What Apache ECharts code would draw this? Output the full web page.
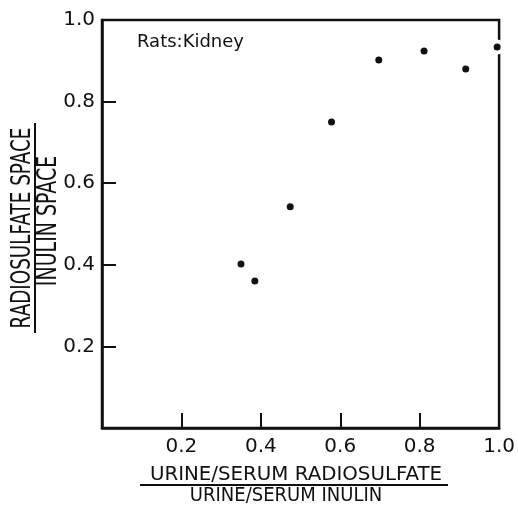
<!DOCTYPE html>
<html>
	<head>
		<meta charset="utf-8">
		<title>Rats: Kidney</title>
		<script src="https://cdn.jsdelivr.net/npm/echarts@6/dist/echarts.min.js"></script>
		<style>
			html, body { margin: 0; padding: 0; background: #fff; }
			#chart { width: 518px; height: 509px; }
		</style>
	</head>

	<body>
		<div id="chart"></div>
		<script type="text/javascript">
			// urine/serum radiosulfate over urine/serum inulin
			var ratioX = [0.350, 0.385, 0.474, 0.578, 0.697, 0.811, 0.916, 0.995];
			// radiosulfate space over inulin space
			var ratioY = [0.402, 0.360, 0.542, 0.750, 0.902, 0.924, 0.880, 0.934];
			var xTicks = [0.2, 0.4, 0.6, 0.8, 1.0];
			var yTicks = [0.2, 0.4, 0.6, 0.8, 1.0];

			var points = [];
			for (var i = 0; i < ratioX.length; i++) {
				points.push([ratioX[i], ratioY[i]]);
			}

			var font = 'DejaVu Sans';

			function tickLabel(list) {
				return function(value) {
					for (var i = 0; i < list.length; i++) {
						if (Math.abs(list[i] - value) < 1e-6) return value.toFixed(1);
					}
					return '';
				};
			}

			var myChart = echarts.init(document.getElementById('chart'));
			var option = {
				animation: false,
				backgroundColor: '#fff',
				grid: {
					left: 102,
					right: 13,
					top: 20,
					bottom: 81,
					show: true,
					borderColor: '#111',
					borderWidth: 2.5
				},
				xAxis: {
					type: 'value',
					min: 0,
					max: 1,
					interval: 0.2,
					splitLine: { show: false },
					axisLine: { lineStyle: { color: '#111', width: 2.5 } },
					axisTick: { inside: true, length: 15, lineStyle: { color: '#111', width: 2 } },
					axisLabel: {
						margin: 9,
						color: '#111',
						fontFamily: font,
						fontSize: 20,
						formatter: tickLabel(xTicks)
					}
				},
				yAxis: {
					type: 'value',
					min: 0,
					max: 1,
					interval: 0.2,
					splitLine: { show: false },
					axisLine: { lineStyle: { color: '#111', width: 2.5 } },
					axisTick: { inside: true, length: 14, lineStyle: { color: '#111', width: 2 } },
					axisLabel: {
						margin: 7,
						color: '#111',
						fontFamily: font,
						fontSize: 20,
						formatter: tickLabel(yTicks)
					}
				},
				graphic: [
					{
						type: 'text', x: 137, y: 42,
						style: { text: 'Rats:Kidney', font: '18px ' + font, fill: '#111', textVerticalAlign: 'middle' }
					},
					// x axis title, a fraction
					{
						type: 'text', x: 296, y: 475, scaleX: 0.99,
						style: { text: 'URINE/SERUM RADIOSULFATE', font: '20px ' + font, fill: '#111', textAlign: 'center', textVerticalAlign: 'middle' }
					},
					{
						type: 'line', shape: { x1: 140, y1: 485, x2: 448, y2: 485 },
						style: { stroke: '#111', lineWidth: 2 }
					},
					{
						type: 'text', x: 286, y: 496, scaleX: 0.9,
						style: { text: 'URINE/SERUM INULIN', font: '20px ' + font, fill: '#111', textAlign: 'center', textVerticalAlign: 'middle' }
					},
					// y axis title, a fraction
					{
						type: 'text', x: 23, y: 228, rotation: Math.PI / 2, scaleX: 0.68,
						style: { text: 'RADIOSULFATE SPACE', font: '27px ' + font, fill: '#111', textAlign: 'center', textVerticalAlign: 'middle' }
					},
					{
						type: 'line', shape: { x1: 35, y1: 123, x2: 35, y2: 333 },
						style: { stroke: '#111', lineWidth: 2 }
					},
					{
						type: 'text', x: 49, y: 221, rotation: Math.PI / 2, scaleX: 0.73,
						style: { text: 'INULIN SPACE', font: '26px ' + font, fill: '#111', textAlign: 'center', textVerticalAlign: 'middle' }
					}
				],
				series: [{
					type: 'scatter',
					clip: false,
					symbol: 'circle',
					symbolSize: 11,
					itemStyle: { color: '#111', borderColor: '#fff', borderWidth: 4, opacity: 1 },
					data: points
				}]
			};
			myChart.setOption(option);
		</script>
	</body>
</html>
